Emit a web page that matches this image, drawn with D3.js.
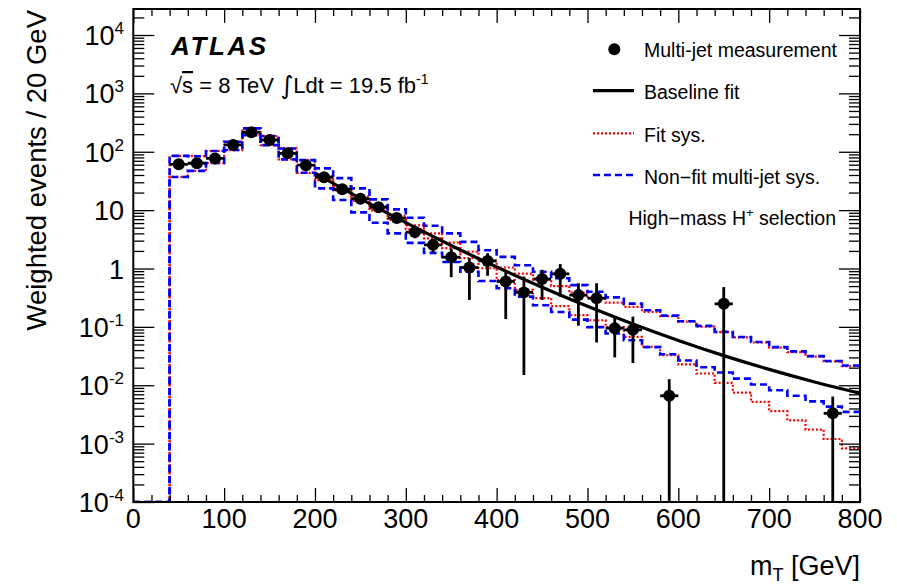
<!DOCTYPE html>
<html>
<head>
<meta charset="utf-8">
<script src="https://cdn.jsdelivr.net/npm/d3@7"></script>
<style>
body { margin: 0; background: #fff; }
text { font-family: "Liberation Sans", Arial, Helvetica, sans-serif; fill: #000; }
</style>
</head>
<body>
<div id="chart"></div>
<script>
// Datos
const BIN_WIDTH = 20;
const binCenters = [10, 30, 50, 70, 90, 110, 130, 150, 170, 190, 210, 230, 250, 270, 290, 310, 330, 350, 370, 390,
    410, 430, 450, 470, 490, 510, 530, 550, 570, 590, 610, 630, 650, 670, 690, 710, 730, 750, 770, 790];

// Non-fit multi-jet sys. (azul, discontinua)
const nonFitUp = [0, 0, 85, 84, 103, 148, 252, 186, 114, 72, 52, 35.4, 23.6, 15.3, 10.3, 7.4, 5.4, 4.0, 2.86, 2.06,
    1.58, 1.14, 0.88, 0.68, 0.52, 0.40, 0.32, 0.25, 0.193, 0.156, 0.125, 0.104, 0.082, 0.067, 0.055, 0.045, 0.038, 0.0315, 0.026, 0.0218];
const nonFitDown = [0, 0, 37, 47, 64, 107, 193, 130, 74, 43.6, 23.6, 14.9, 9.15, 6.07, 4.0, 2.75, 1.85, 1.29, 0.88, 0.61,
    0.46, 0.33, 0.235, 0.18, 0.133, 0.099, 0.077, 0.059, 0.045, 0.034, 0.0266, 0.0204, 0.0165, 0.013, 0.0103, 0.0082, 0.0066, 0.0053, 0.0043, 0.0035];

// Fit sys. (rojo, punteada)
const fitSysUp = [0, 0, 85, 84, 103, 148, 252, 186, 114, 72, 38.3, 25.5, 17.1, 11.6, 8.0, 5.5, 4.0, 2.78, 1.94, 1.36,
    1.04, 0.82, 0.645, 0.50, 0.386, 0.307, 0.26, 0.22, 0.181, 0.152, 0.123, 0.101, 0.081, 0.066, 0.054, 0.044, 0.037, 0.031, 0.0255, 0.0213];
const fitSysDown = [0, 0, 37, 47, 64, 107, 193, 130, 74, 43.6, 32.6, 21.8, 14.6, 9.9, 6.8, 4.7, 3.27, 2.23, 1.51, 1.01,
    0.63, 0.43, 0.31, 0.226, 0.159, 0.13, 0.099, 0.0675, 0.0454, 0.0327, 0.0227, 0.0159, 0.011, 0.0075, 0.0052, 0.0036, 0.0025, 0.00174, 0.0012, 0.00083];

// Baseline fit
const fitMt = [200, 250, 300, 350, 400, 450, 500, 550, 600, 650, 700, 750, 800];
const fitVal = [43, 15.8, 6.1, 2.48, 1.06, 0.477, 0.225, 0.112, 0.0586, 0.0322, 0.0187, 0.0114, 0.0073];

// Multi-jet measurement
const dataMt = [50, 70, 90, 110, 130, 150, 170, 190, 210, 230, 250, 270, 290, 310, 330, 350, 370, 390, 410, 430,
    450, 470, 490, 510, 530, 550, 590, 650, 770];
const dataVal = [61, 63.5, 77, 131, 216, 159, 94, 59, 36.6, 22.8, 15.7, 11.2, 7.3, 4.2, 2.54, 1.56, 1.04, 1.35, 0.60, 0.39,
    0.66, 0.81, 0.35, 0.31, 0.095, 0.089, 0.0066, 0.248, 0.0033];
const dataLow = [56, 58, 71, 123, 205, 150, 87, 54, 33, 20.5, 13.8, 9.6, 6.1, 3.3, 1.9, 0.71, 0.29, 0.75, 0.136, 0.015,
    0.29, 0.33, 0.105, 0.054, 0.030, 0.024, 0, 0, 0];
const dataHigh = [66, 69, 83, 139, 227, 168, 101, 64, 40, 25, 17.6, 12.8, 8.5, 5.1, 3.2, 2.2, 1.5, 1.83, 0.885, 0.73,
    0.95, 1.19, 0.56, 0.56, 0.15, 0.15, 0.0127, 0.48, 0.0064];

// Ejes
const xTickValues = [0, 100, 200, 300, 400, 500, 600, 700, 800];
const yTickValues = [1e-4, 1e-3, 1e-2, 1e-1, 1, 10, 1e2, 1e3, 1e4];
const yTickBase = ['10', '10', '10', '10', '1', '10', '10', '10', '10'];
const yTickExp = ['-4', '-3', '-2', '-1', '', '', '2', '3', '4'];

const COLOR_RED = '#ff0000', COLOR_BLUE = '#0000ff';

let width = 897, height = 588;

let svg = d3.select('#chart')
    .append('svg')
    .attr('width', width)
    .attr('height', height);

let x = d3.scaleLinear().domain([0, 800]).range([133.3, 860]);
let y = d3.scaleLog().domain([1e-4, 2.79e4]).range([502, 9]);
let yBottom = y.range()[0], yTop = y.range()[1];

function yv(v) {
    return v > 0 ? Math.min(y(v), yBottom) : yBottom;
}

svg.append('clipPath').attr('id', 'plotclip')
    .append('rect')
    .attr('x', x(0)).attr('y', yTop)
    .attr('width', x(800) - x(0)).attr('height', yBottom - yTop);

let plot = svg.append('g').attr('clip-path', 'url(#plotclip)');

function stepPath(vals) {
    let p = 'M' + x(binCenters[0] - BIN_WIDTH / 2) + ',' + yv(vals[0]);
    vals.forEach(function(v, i) {
        if (i > 0) p += 'V' + yv(v);
        p += 'H' + x(binCenters[i] + BIN_WIDTH / 2);
    });
    return p;
}

//Histogramas de sistematicos
[fitSysUp, fitSysDown].forEach(function(s) {
    plot.append('path')
        .attr('d', stepPath(s))
        .attr('fill', 'none')
        .attr('stroke', COLOR_RED)
        .attr('stroke-width', 2.2)
        .attr('stroke-dasharray', '2,2');
});
[nonFitUp, nonFitDown].forEach(function(s) {
    plot.append('path')
        .attr('d', stepPath(s))
        .attr('fill', 'none')
        .attr('stroke', COLOR_BLUE)
        .attr('stroke-width', 2.6)
        .attr('stroke-dasharray', '7,4');
});

//Ajuste
let fitLine = d3.line()
    .x(function(d, i) { return x(fitMt[i]); })
    .y(function(d) { return y(d); })
    .curve(d3.curveMonotoneX);

plot.append('path')
    .attr('d', fitLine(fitVal))
    .attr('fill', 'none')
    .attr('stroke', '#000')
    .attr('stroke-width', 3.2);

//Puntos con barras de error
let pts = plot.selectAll('.pt')
    .data(dataMt)
    .enter()
    .append('g')
    .attr('class', 'pt');

pts.append('line')
    .attr('x1', function(d) { return x(d); })
    .attr('x2', function(d) { return x(d); })
    .attr('y1', function(d, i) { return yv(dataHigh[i]); })
    .attr('y2', function(d, i) { return yv(dataLow[i]); })
    .attr('stroke', '#000').attr('stroke-width', 2.8);

pts.append('line')
    .attr('x1', function(d) { return x(d - BIN_WIDTH / 2); })
    .attr('x2', function(d) { return x(d + BIN_WIDTH / 2); })
    .attr('y1', function(d, i) { return y(dataVal[i]); })
    .attr('y2', function(d, i) { return y(dataVal[i]); })
    .attr('stroke', '#000').attr('stroke-width', 2.8);

pts.append('circle')
    .attr('cx', function(d) { return x(d); })
    .attr('cy', function(d, i) { return y(dataVal[i]); })
    .attr('r', 6)
    .attr('fill', '#000');

//Ticks
let yMinor = [];
yTickValues.forEach(function(t) {
    for (let m = 2; m <= 9; m++) { if (t * m <= y.domain()[1]) yMinor.push(t * m); }
});
let xMinor = d3.range(0, 801, 20).filter(function(d) { return d % 100 !== 0; });

function tickAxis(axis, transform) {
    let g = svg.append('g').attr('transform', transform).call(axis);
    g.select('.domain').remove();
    g.selectAll('line').attr('stroke', '#000').attr('stroke-width', 1.3);
    g.selectAll('text').remove();
}

tickAxis(d3.axisBottom(x).tickValues(xMinor).tickSize(-7), 'translate(0,' + yBottom + ')');
tickAxis(d3.axisBottom(x).tickValues(xTickValues).tickSize(-14), 'translate(0,' + yBottom + ')');
tickAxis(d3.axisTop(x).tickValues(xMinor).tickSize(-7), 'translate(0,' + yTop + ')');
tickAxis(d3.axisTop(x).tickValues(xTickValues).tickSize(-14), 'translate(0,' + yTop + ')');
tickAxis(d3.axisLeft(y).tickValues(yMinor).tickSize(-11), 'translate(' + x(0) + ',0)');
tickAxis(d3.axisLeft(y).tickValues(yTickValues).tickSize(-21), 'translate(' + x(0) + ',0)');
tickAxis(d3.axisRight(y).tickValues(yMinor).tickSize(-11), 'translate(' + x(800) + ',0)');
tickAxis(d3.axisRight(y).tickValues(yTickValues).tickSize(-21), 'translate(' + x(800) + ',0)');

//Marco
svg.append('rect')
    .attr('x', x(0)).attr('y', yTop)
    .attr('width', x(800) - x(0)).attr('height', yBottom - yTop)
    .attr('fill', 'none').attr('stroke', '#000').attr('stroke-width', 2);

//Etiquetas
svg.selectAll('.xlab')
    .data(xTickValues)
    .enter()
    .append('text')
    .attr('class', 'xlab')
    .attr('x', function(d) { return x(d); })
    .attr('y', 528)
    .attr('text-anchor', 'middle')
    .style('font-size', '27px')
    .text(function(d) { return d; });

yTickValues.forEach(function(t, i) {
    let tx = svg.append('text')
        .attr('x', 124)
        .attr('y', y(t) + 10)
        .attr('text-anchor', 'end')
        .style('font-size', '27px');
    tx.append('tspan').text(yTickBase[i]);
    if (yTickExp[i] !== '') {
        tx.append('tspan').attr('dy', -11).style('font-size', '17px').text(yTickExp[i]);
    }
});

svg.append('text')
    .attr('transform', 'translate(46,10) rotate(-90)')
    .attr('text-anchor', 'end')
    .style('font-size', '27.5px')
    .text('Weighted events / 20 GeV');

let xt = svg.append('text')
    .attr('x', 860).attr('y', 575)
    .attr('text-anchor', 'end')
    .style('font-size', '27px');
xt.append('tspan').text('m');
xt.append('tspan').attr('dy', 6).style('font-size', '18px').text('T');
xt.append('tspan').attr('dy', -6).text(' [GeV]');

//ATLAS
svg.append('text')
    .attr('x', 171).attr('y', 55)
    .style('font-size', '26px')
    .style('font-weight', 'bold')
    .style('font-style', 'italic')
    .style('letter-spacing', '2.6px')
    .text('ATLAS');

let lumi = svg.append('text')
    .attr('x', 170).attr('y', 93)
    .style('font-size', '22px');
lumi.append('tspan').text('\u221A');
lumi.append('tspan').style('text-decoration', 'overline').text('s');
lumi.append('tspan').text(' = 8 TeV ');
lumi.append('tspan').style('font-family', '"DejaVu Sans", sans-serif').style('font-size', '25px').attr('dy', 1).text('\u222B');
lumi.append('tspan').attr('dy', -1).text('Ldt = 19.5 fb');
lumi.append('tspan').attr('dy', -9).style('font-size', '14px').text('-1');

//Leyenda
let legX1 = 593, legX2 = 634, legText = 644;
svg.append('circle').attr('cx', 614.3).attr('cy', 49.3).attr('r', 6).attr('fill', '#000');
svg.append('line').attr('x1', legX1).attr('x2', legX2).attr('y1', 90.7).attr('y2', 90.7)
    .attr('stroke', '#000').attr('stroke-width', 3.2);
svg.append('line').attr('x1', legX1).attr('x2', legX2).attr('y1', 133.3).attr('y2', 133.3)
    .attr('stroke', COLOR_RED).attr('stroke-width', 2.2).attr('stroke-dasharray', '2,2');
svg.append('line').attr('x1', legX1).attr('x2', legX2).attr('y1', 175).attr('y2', 175)
    .attr('stroke', COLOR_BLUE).attr('stroke-width', 2.6).attr('stroke-dasharray', '7,4');

[['Multi-jet measurement', 56.7], ['Baseline fit', 99], ['Fit sys.', 141.7], ['Non\u2212fit multi-jet sys.', 184]].forEach(function(l) {
    svg.append('text').attr('x', legText).attr('y', l[1]).style('font-size', '19.5px').text(l[0]);
});

let hm = svg.append('text')
    .attr('x', 836).attr('y', 225)
    .attr('text-anchor', 'end')
    .style('font-size', '19.5px');
hm.append('tspan').text('High\u2212mass H');
hm.append('tspan').attr('dy', -8).style('font-size', '13px').text('+');
hm.append('tspan').attr('dy', 8).text(' selection');
</script>
</body>
</html>
